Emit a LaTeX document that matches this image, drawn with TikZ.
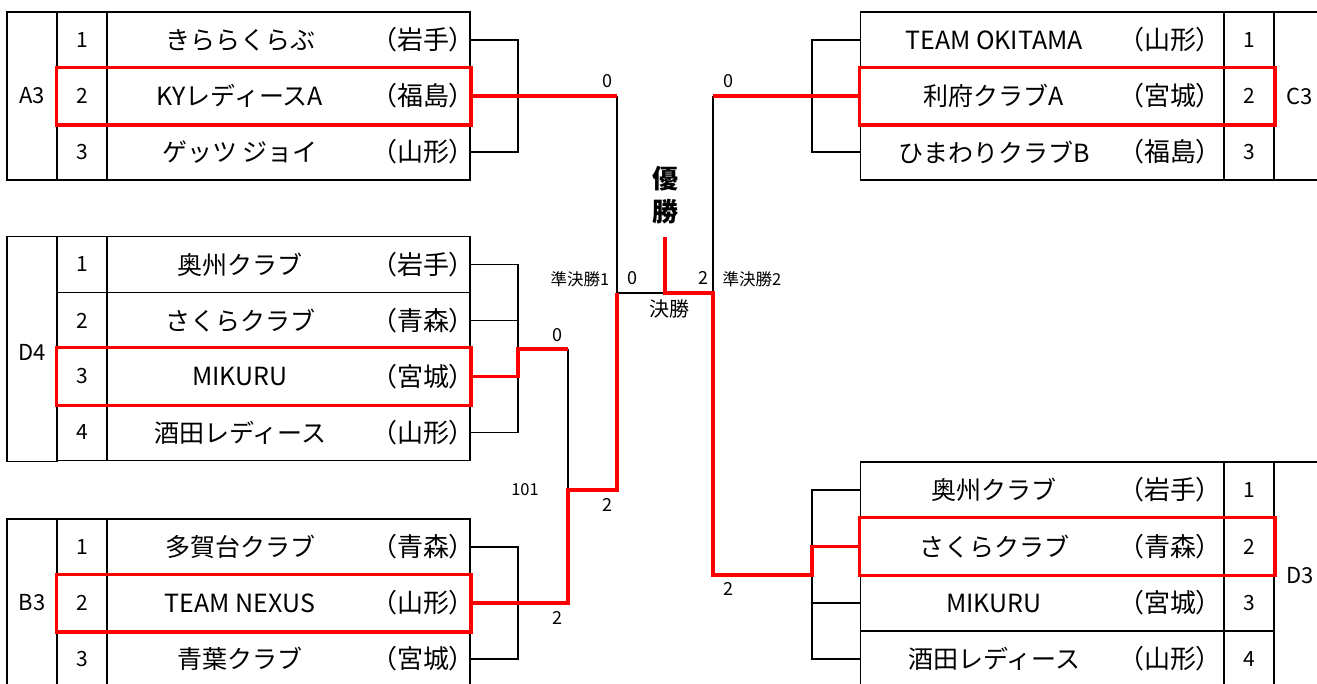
\documentclass[tikz,border=0pt]{standalone}
\usepackage{fontspec}
\setmainfont{Noto Sans CJK JP}
\newfontfamily\pfont{Noto Sans CJK JP}[RawFeature=+palt]
\begin{document}
\begin{tikzpicture}[x=1pt,y=-1pt,
  blk/.style={line width=1.6pt,black},
  win/.style={line width=3.6pt,red},
  cellbox/.style={draw=black,line width=1.6pt,inner sep=0pt,minimum height=56pt},
  numc/.style={cellbox,minimum width=50pt,font=\fontsize{21}{21}\selectfont},
  namec/.style={cellbox,minimum width=363pt},
  tname/.style={inner sep=0pt,font=\fontsize{25}{25}\selectfont},
  tpref/.style={inner sep=0pt,font=\pfont\fontsize{26}{26}\selectfont},
  grp/.style={inner sep=0pt,font=\fontsize{22}{22}\selectfont},
  score/.style={inner sep=0pt,font=\fontsize{18}{18}\selectfont},
  small/.style={inner sep=0pt,font=\fontsize{16.5}{16.5}\selectfont}]
\useasboundingbox (0,0) rectangle (1317,683);
\clip (0,0) rectangle (1317,683);
\fill[white] (0,0) rectangle (1317,683);

\newcommand\lrow[5]{%
  \node[numc] (#1n) at (82,#2) {#3};
  \node[namec] (#1) at (288.5,#2) {};
  \node[tname] (#1a) at (240,#2) {#4};
  \node[tpref] (#1b) at (423,#2) {#5};}
\newcommand\rrow[5]{%
  \node[namec] (#1) at (1042,#2) {};
  \node[numc] (#1n) at (1249,#2) {#3};
  \node[tname] (#1a) at (994,#2) {#4};
  \node[tpref] (#1b) at (1170,#2) {#5};}

% ---- A3 ----
\node[cellbox,minimum width=50pt,minimum height=168pt] (A3c) at (32,96) {};
\node[grp] (A3l) at (32,96) {A3};
\lrow{A3r1}{40}{1}{きららくらぶ}{（岩手）}
\lrow{A3r2}{96}{2}{KYレディースA}{（福島）}
\lrow{A3r3}{152}{3}{ゲッツ ジョイ}{（山形）}

% ---- D4 ----
\node[cellbox,minimum width=50pt,minimum height=225pt] (D4c) at (32,349) {};
\node[grp] (D4l) at (32,352) {D4};
\lrow{D4r1}{264.5}{1}{奥州クラブ}{（岩手）}
\lrow{D4r2}{320.5}{2}{さくらクラブ}{（青森）}
\lrow{D4r3}{376.5}{3}{MIKURU}{（宮城）}
\lrow{D4r4}{432.5}{4}{酒田レディース}{（山形）}

% ---- B3 ----
\node[cellbox,minimum width=50pt,minimum height=168pt] (B3c) at (32,603) {};
\node[grp] (B3l) at (32,603) {B3};
\lrow{B3r1}{547}{1}{多賀台クラブ}{（青森）}
\lrow{B3r2}{603}{2}{TEAM NEXUS}{（山形）}
\lrow{B3r3}{659}{3}{青葉クラブ}{（宮城）}

% ---- C3 ----
\node[cellbox,minimum width=100pt,minimum height=168pt] (C3c) at (1324,96) {};
\node[grp] (C3l) at (1300,96) {C3};
\rrow{C3r1}{40}{1}{TEAM OKITAMA}{（山形）}
\rrow{C3r2}{96}{2}{利府クラブA}{（宮城）}
\rrow{C3r3}{152}{3}{ひまわりクラブB}{（福島）}

% ---- D3 ----
\node[cellbox,minimum width=100pt,minimum height=225pt] (D3c) at (1324,574.5) {};
\node[grp] (D3l) at (1300,576) {D3};
\rrow{D3r1}{490}{1}{奥州クラブ}{（岩手）}
\rrow{D3r2}{546.5}{2}{さくらクラブ}{（青森）}
\rrow{D3r3}{603}{3}{MIKURU}{（宮城）}
\rrow{D3r4}{659}{4}{酒田レディース}{（山形）}

% ---- coordinates of the bracket ----
\coordinate (s1top) at (617,96);
\coordinate (s1mid) at (617,293);
\coordinate (fmid) at (665,293);
\coordinate (ftop) at (665,237);
\coordinate (s2mid) at (713,293);
\coordinate (s2top) at (713,96);
\coordinate (d4j) at (518,349);
\coordinate (d4w) at (568,349);
\coordinate (q1) at (568,490);
\coordinate (q1r) at (617,490);
\coordinate (b3j) at (568,603);
\coordinate (d3low) at (713,575);
\coordinate (d3j) at (812,575);

% ---- black bracket lines ----
\draw[blk] (A3r1.east) -- (518,40) -- (518,152) -- (A3r3.east);
\draw[blk] (D4r1.east) -- (518,264.5) -- (518,432.5) -- (D4r4.east);
\draw[blk] (D4r2.east) -- (518,320.5);
\draw[blk] (B3r1.east) -- (518,547) -- (518,659) -- (B3r3.east);
\draw[blk] (C3r1.west) -- (812,40) -- (812,152) -- (C3r3.west);
\draw[blk] (D3r1.west) -- (812,490) -- (812,659) -- (D3r4.west);
\draw[blk] (D3r3.west) -- (812,603);
\draw[blk] (s1top) -- (s1mid) -- (fmid);
\draw[blk] (s2top) -- (s2mid);
\draw[blk] (d4w) -- (q1);

% ---- winner lines ----
\draw[win] (A3r2.east) -- (s1top);
\draw[win] (C3r2.west) -- (s2top);
\draw[win,line join=miter] (D4r3.east) -- (518,376.5) -- (d4j) -- (d4w);
\draw[win,line join=miter] (B3r2.east) -- (b3j) -- (q1) -- (q1r) -- (s1mid);
\draw[win,line join=miter] (ftop) -- (fmid) -- (s2mid) -- (d3low) -- (d3j) -- (812,546.5) -- (D3r2.west);

% ---- highlighted rows ----
\draw[red,line width=3.4pt] (A3r2n.north west) rectangle (A3r2.south east);
\draw[red,line width=3.4pt] (D4r3n.north west) rectangle (D4r3.south east);
\draw[red,line width=3.4pt] (B3r2n.north west) rectangle (B3r2.south east);
\draw[red,line width=3.4pt] (C3r2.north west) rectangle (C3r2n.south east);
\draw[red,line width=3.4pt] (D3r2.north west) rectangle (D3r2n.south east);

% ---- labels ----
\node[score] (sA) at (607,81) {0};
\node[score] (sC) at (728,81) {0};
\node[score] (sD4) at (557,335) {0};
\node[small] (s101) at (525,490) {101};
\node[score] (sQ) at (607,505) {2};
\node[score] (sB3) at (557,618) {2};
\node[score] (sD3) at (728,589) {2};
\node[score] (s1sc) at (632,278) {0};
\node[score] (s2sc) at (703,278) {2};
\node[small] (sf1) at (580,279) {準決勝1};
\node[small] (sf2) at (752,279) {準決勝2};
\node[inner sep=0pt,font=\fontsize{20}{20}\selectfont] (fin) at (669,309) {決勝};
\node[inner sep=0pt,font=\bfseries\fontsize{26}{26}\selectfont] (yu) at (665,179) {優};
\node[inner sep=0pt,font=\bfseries\fontsize{26}{26}\selectfont] (sho) at (665,212) {勝};
\end{tikzpicture}
\end{document}
